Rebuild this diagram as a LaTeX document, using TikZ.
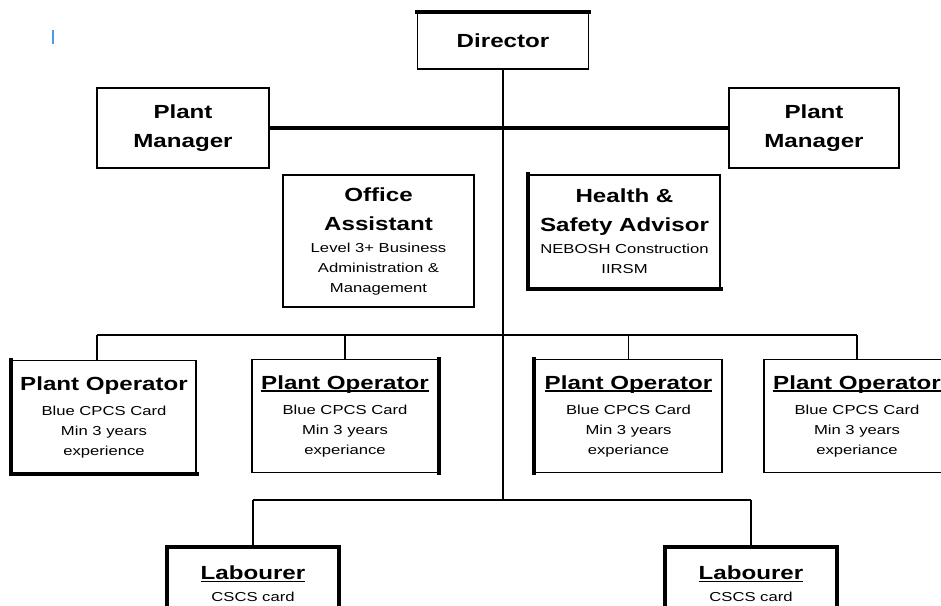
\documentclass[tikz,border=0pt]{standalone}
\usepackage{fontspec}
\setmainfont{Liberation Sans}
\newfontfamily\titlefont[FakeStretch=1.27]{Liberation Sans}
\newfontfamily\notefont[FakeStretch=1.28]{Liberation Sans}
\definecolor{cursorblue}{RGB}{80,150,240}

\newcommand\roletitle[1]{{\titlefont\bfseries\fontsize{19}{29}\selectfont #1}}
\newcommand\ultitle[1]{\roletitle{\setbox0\hbox{#1}\rlap{\rule[-2.6pt]{\wd0}{1.4pt}}\box0}}

\begin{document}
\begin{tikzpicture}[x=1pt, y=-1pt,
            role/.style={draw, line width=1.6pt, inner sep=0pt, align=center, font=\notefont\fontsize{13}{20}\selectfont},
            thickedge/.style={line width=4pt, line cap=rect},
            link/.style={line width=1.6pt},
            mainlink/.style={line width=3.2pt}]

            % page, cut like the scan
            \clip (0,0) rectangle (941,605);
            \fill[white] (0,0) rectangle (941,605);
            \draw[cursorblue, line width=1.8pt] (53,30) -- (53,44);

            % Top level
            \node[role, minimum width=171pt, minimum height=56pt] (director) at (503,41) {\roletitle{Director}};
            \node[role, minimum width=172pt, minimum height=80pt] (pmleft) at (183,128) {\roletitle{Plant}\\[9pt]\roletitle{Manager}};
            \node[role, minimum width=170pt, minimum height=80pt] (pmright) at (814,128) {\roletitle{Plant}\\[9pt]\roletitle{Manager}};

            % Support staff
            \node[role, minimum width=191pt, minimum height=132pt] (office) at (378.5,241) {\roletitle{Office}\\[9pt]\roletitle{Assistant}\\[2pt]Level 3+ Business\\Administration \&\\Management};
            \node[role, minimum width=191pt, minimum height=113pt] (safety) at (624.5,231.5) {\roletitle{Health \&}\\[9pt]\roletitle{Safety Advisor}\\[2pt]NEBOSH Construction\\IIRSM};

            % Plant operators
            \node[role, minimum width=184pt, minimum height=113pt] (op1) at (104,417) {\roletitle{Plant Operator}\\[5pt]Blue CPCS Card\\Min 3 years\\experience};
            \node[role, minimum width=186pt, minimum height=113pt] (op2) at (345,416) {\ultitle{Plant Operator}\\[5pt]Blue CPCS Card\\Min 3 years\\experiance};
            \node[role, minimum width=187pt, minimum height=113pt] (op3) at (628.5,416) {\ultitle{Plant Operator}\\[5pt]Blue CPCS Card\\Min 3 years\\experiance};
            \node[role, minimum width=186pt, minimum height=113pt] (op4) at (857,416) {\ultitle{Plant Operator}\\[5pt]Blue CPCS Card\\Min 3 years\\experiance};

            % Labourers
            \node[role, minimum width=170pt, minimum height=72pt] (lab1) at (253,584) {\ultitle{Labourer}\\[2pt]CSCS card};
            \node[role, minimum width=170pt, minimum height=72pt] (lab2) at (751,584) {\ultitle{Labourer}\\[2pt]CSCS card};

            % heavy edges of the boxes
            \draw[thickedge] (director.north west) -- (director.north east);
            \draw[thickedge] (safety.north west) -- (safety.south west) -- (safety.south east);
            \draw[thickedge] (op1.north west) -- (op1.south west) -- (op1.south east);
            \draw[thickedge] (op2.north east) -- (op2.south east);
            \draw[thickedge] (op3.north west) -- (op3.south west);
            \draw[thickedge] (lab1.south west) -- (lab1.north west) -- (lab1.north east) -- (lab1.south east);
            \draw[thickedge] (lab2.south west) -- (lab2.north west) -- (lab2.north east) -- (lab2.south east);

            % Connectors
            \coordinate (labbar) at (503,500);
            \coordinate (opleft) at (97,335);
            \coordinate (opright) at (857,335);
            \draw[mainlink] (pmleft) -- (pmright);
            \draw[link] (director.south) -- (labbar);
            \draw[link] (opleft) -- (opright);
            \draw[link] (opleft) -- (opleft |- op1.north);
            \draw[link] (op2.north) -- (op2.north |- opleft);
            \draw[link] (op3.north) -- (op3.north |- opleft);
            \draw[link] (op4.north) -- (op4.north |- opleft);
            \draw[link] (lab1.north |- labbar) -- (lab2.north |- labbar);
            \draw[link] (lab1.north) -- (lab1.north |- labbar);
            \draw[link] (lab2.north) -- (lab2.north |- labbar);
        \end{tikzpicture}
\end{document}
